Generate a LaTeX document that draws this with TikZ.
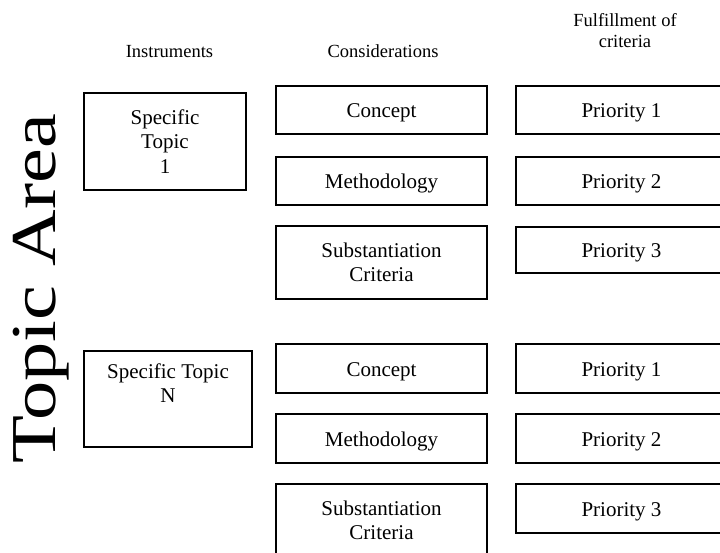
\documentclass[tikz,border=0pt]{standalone}
\usepackage{fontspec}
\setmainfont{Liberation Serif}
\begin{document}
\begin{tikzpicture}[x=1pt,y=-1pt,
  box/.style={draw, line width=1.7pt, inner sep=0pt, align=center,
    font=\fontsize{21}{24.5}\selectfont},
  cbox/.style={box, minimum width=211pt},
  sbox/.style={draw, line width=1.7pt, inner sep=0pt, minimum width=211pt,
    font=\fontsize{21}{24.5}\selectfont, text height=16pt, text depth=0pt},
  head/.style={font=\fontsize{18.5}{21}\selectfont, align=center, anchor=base, inner sep=0pt}]
\useasboundingbox (0,0) rectangle (720,553);
\clip (0,0) rectangle (720,553);
% headers
\node[head] (hInst) at (169.5,58) {Instruments};
\node[head] (hCons) at (383,58) {Considerations};
\node[head] (hFul) at (625,48) {Fulfillment of\\criteria};
% big side label
\node[anchor=base, rotate=90, inner sep=0pt, font=\fontsize{64}{70}\selectfont] (area) at (55,288.5) {\scalebox{1.225}[1]{Topic Area}};
% instruments
\node[box, minimum width=162pt, minimum height=97pt] (st1) at (165,141.5) {Specific\\Topic\\1};
\node[box, minimum width=168pt, minimum height=96pt] (stN) at (168,399) {Specific Topic\\N\\\strut};
% considerations, group 1
\node[sbox, minimum height=48pt] (con1) at (381.5,110) {Concept};
\node[sbox, minimum height=48pt] (met1) at (381.5,181) {Methodology};
\node[cbox, minimum height=73pt] (sub1) at (381.5,262.5) {Substantiation\\Criteria};
% considerations, group N
\node[sbox, minimum height=49pt] (con2) at (381.5,368.5) {Concept};
\node[sbox, minimum height=49pt] (met2) at (381.5,438.5) {Methodology};
\node[cbox, minimum height=73pt] (sub2) at (381.5,520.5) {Substantiation\\Criteria};
% priorities, group 1
\node[sbox, minimum height=48pt] (p11) at (621.5,110) {Priority 1};
\node[sbox, minimum height=48pt] (p12) at (621.5,181) {Priority 2};
\node[sbox, minimum height=46pt] (p13) at (621.5,250) {Priority 3};
% priorities, group N
\node[sbox, minimum height=49pt] (p21) at (621.5,368.5) {Priority 1};
\node[sbox, minimum height=49pt] (p22) at (621.5,438.5) {Priority 2};
\node[sbox, minimum height=49pt] (p23) at (621.5,508.5) {Priority 3};
\end{tikzpicture}
\end{document}
